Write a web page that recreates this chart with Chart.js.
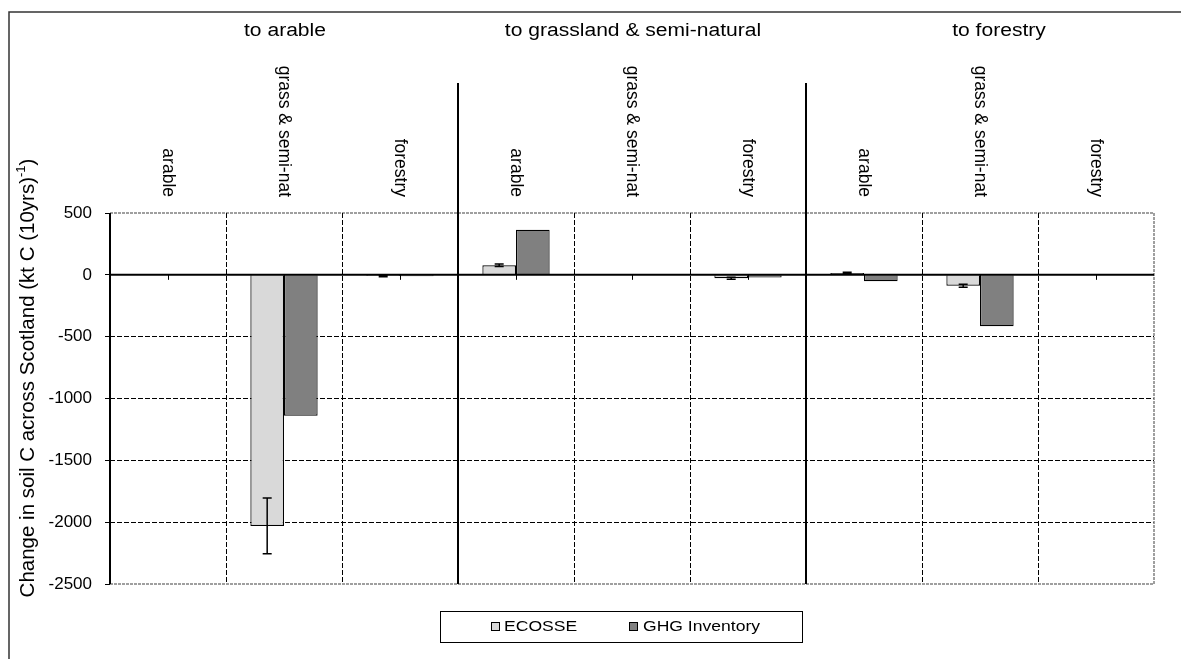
<!DOCTYPE html>
<html>
<head>
<meta charset="utf-8">
<script src="https://cdn.jsdelivr.net/npm/chart.js@4.4.1/dist/chart.umd.min.js"></script>
<style>
  body { margin: 0; background: #fff; }
  canvas { display: block; }
</style>
</head>
<body>
<canvas id="myChart" width="1181" height="659"></canvas>
<script>
// land use change: "from" categories, grouped by the "to" use
var groups = ['to arable', 'to grassland & semi-natural', 'to forestry'];
var categories = ['arable', 'grass & semi-nat', 'forestry',
                  'arable', 'grass & semi-nat', 'forestry',
                  'arable', 'grass & semi-nat', 'forestry'];
// change in soil C across Scotland, kt C per 10 yrs
var ecosse = [0, -2030, -10, 78, 0, -28, 15, -88, 0];
var ecosseErr = [0, 225, 5, 10, 0, 8, 5, 12, 0];
var ghg = [0, -1140, -12, 365, 0, -22, -52, -415, 0];
var yTicks = [500, 0, -500, -1000, -1500, -2000, -2500];
var seriesNames = ['ECOSSE', 'GHG Inventory'];
var seriesColors = ['#d9d9d9', '#808080'];

var FONT = "'Liberation Sans', Arial, sans-serif";
var SX = 1.17; // the horizontal text in the original is a bit wide

function stretchedText(ctx, txt, x, y, size, align) {
  ctx.save();
  ctx.font = size + 'px ' + FONT;
  ctx.fillStyle = '#000';
  ctx.textAlign = align || 'center';
  ctx.textBaseline = 'middle';
  ctx.translate(x, y);
  ctx.scale(SX, 1);
  ctx.fillText(txt, 0, 0);
  ctx.restore();
}

var decorations = {
  id: 'decorations',
  beforeDraw: function(chart) {
    var ctx = chart.ctx;
    ctx.save();
    ctx.fillStyle = '#fff';
    ctx.fillRect(0, 0, chart.width, chart.height);
    // outer frame
    ctx.strokeStyle = '#333';
    ctx.lineWidth = 1.5;
    ctx.beginPath();
    ctx.moveTo(9, chart.height);
    ctx.lineTo(9, 12);
    ctx.lineTo(chart.width, 12);
    ctx.stroke();
    ctx.restore();
  },
  beforeDatasetsDraw: function(chart) {
    var ctx = chart.ctx, a = chart.chartArea, x = chart.scales.x;
    ctx.save();
    // plot area border (grey, fine dashes)
    ctx.strokeStyle = '#808080';
    ctx.lineWidth = 1.5;
    ctx.setLineDash([3, 1]);
    ctx.beginPath();
    ctx.moveTo(a.left, a.top); ctx.lineTo(a.right, a.top);
    ctx.moveTo(a.left, a.bottom); ctx.lineTo(a.right, a.bottom);
    ctx.moveTo(a.right, a.top); ctx.lineTo(a.right, a.bottom);
    ctx.stroke();
    // dashed dividers between categories inside a group
    ctx.strokeStyle = '#000';
    ctx.lineWidth = 1;
    ctx.setLineDash([5, 2]);
    ctx.beginPath();
    for (var i = 1; i < categories.length; i++) {
      if (i % 3 == 0) continue;
      var px = Math.round(x.getPixelForValue(i - 0.5)) + 0.5;
      ctx.moveTo(px, a.top); ctx.lineTo(px, a.bottom);
    }
    ctx.stroke();
    ctx.restore();
  },
  afterDatasetsDraw: function(chart) {
    var ctx = chart.ctx, a = chart.chartArea, x = chart.scales.x, y = chart.scales.y;
    var meta = chart.getDatasetMeta(0);
    ctx.save();
    // error bars on ECOSSE
    ctx.strokeStyle = '#000';
    ctx.lineWidth = 1.5;
    ctx.beginPath();
    for (var i = 0; i < ecosse.length; i++) {
      if (!ecosseErr[i]) continue;
      var bx = meta.data[i].x;
      var hi = y.getPixelForValue(ecosse[i] + ecosseErr[i]);
      var lo = y.getPixelForValue(ecosse[i] - ecosseErr[i]);
      ctx.moveTo(bx, hi); ctx.lineTo(bx, lo);
      ctx.moveTo(bx - 4.5, hi); ctx.lineTo(bx + 4.5, hi);
      ctx.moveTo(bx - 4.5, lo); ctx.lineTo(bx + 4.5, lo);
    }
    ctx.stroke();
    // value axis line
    ctx.lineWidth = 2;
    ctx.beginPath();
    ctx.moveTo(a.left, a.top); ctx.lineTo(a.left, a.bottom);
    ctx.stroke();
    // zero line with small ticks at category centres
    var y0 = y.getPixelForValue(0);
    ctx.beginPath();
    ctx.moveTo(a.left, y0); ctx.lineTo(a.right, y0);
    ctx.stroke();
    ctx.lineWidth = 1;
    ctx.beginPath();
    for (var j = 0; j < categories.length; j++) {
      var cx = Math.round(x.getPixelForValue(j)) + 0.5;
      ctx.moveTo(cx, y0); ctx.lineTo(cx, y0 + 5);
    }
    ctx.stroke();
    // solid separators between the groups
    ctx.lineWidth = 2;
    ctx.beginPath();
    for (var g = 1; g < groups.length; g++) {
      var sx = Math.round(x.getPixelForValue(g * 3 - 0.5));
      ctx.moveTo(sx, 83); ctx.lineTo(sx, a.bottom);
    }
    ctx.stroke();
    ctx.restore();
  },
  afterDraw: function(chart) {
    var ctx = chart.ctx, x = chart.scales.x;
    // group titles
    var groupX = [285, 633, 999];
    for (var g = 0; g < groups.length; g++) {
      stretchedText(ctx, groups[g], groupX[g], 31, 18);
    }
    // rotated category labels, reading downwards
    for (var i = 0; i < categories.length; i++) {
      ctx.save();
      ctx.font = '17.5px ' + FONT;
      ctx.fillStyle = '#000';
      ctx.textAlign = 'right';
      ctx.textBaseline = 'middle';
      ctx.translate(x.getPixelForValue(i), 197);
      ctx.rotate(Math.PI / 2);
      ctx.fillText(categories[i], 0, 0);
      ctx.restore();
    }
    // y axis title with superscript
    var main = 'Change in soil C across Scotland (kt C (10yrs)';
    ctx.save();
    ctx.fillStyle = '#000';
    ctx.textBaseline = 'middle';
    ctx.textAlign = 'left';
    ctx.font = '20.5px ' + FONT;
    var w1 = ctx.measureText(main).width;
    var w3 = ctx.measureText(')').width;
    ctx.font = '13px ' + FONT;
    var w2 = ctx.measureText('-1').width;
    var total = w1 + w2 + w3;
    ctx.translate(28, 378);
    ctx.rotate(-Math.PI / 2);
    ctx.font = '20.5px ' + FONT;
    ctx.fillText(main, -total / 2, 0);
    ctx.font = '13px ' + FONT;
    ctx.fillText('-1', -total / 2 + w1, -7);
    ctx.font = '20.5px ' + FONT;
    ctx.fillText(')', -total / 2 + w1 + w2, 0);
    ctx.restore();
    // legend box
    ctx.save();
    ctx.strokeStyle = '#000';
    ctx.lineWidth = 1;
    ctx.strokeRect(440.5, 611.5, 362, 31);
    var boxX = [491, 629];
    var textX = [504, 643];
    for (var s = 0; s < seriesNames.length; s++) {
      ctx.fillStyle = seriesColors[s];
      ctx.fillRect(boxX[s] + 0.5, 622.5, 8, 8);
      ctx.strokeRect(boxX[s] + 0.5, 622.5, 8, 8);
      stretchedText(ctx, seriesNames[s], textX[s], 627, 15, 'left');
    }
    ctx.restore();
  }
};

var ctx = document.getElementById('myChart').getContext('2d');
var myChart = new Chart(ctx, {
  type: 'bar',
  data: {
    labels: categories,
    datasets: [{
      label: seriesNames[0],
      data: ecosse,
      backgroundColor: seriesColors[0],
      borderColor: '#000',
      borderWidth: 1.2
    }, {
      label: seriesNames[1],
      data: ghg,
      backgroundColor: seriesColors[1],
      borderColor: '#000',
      borderWidth: 1.2
    }]
  },
  options: {
    responsive: false,
    animation: false,
    categoryPercentage: 0.58,
    barPercentage: 1.0,
    layout: { padding: { top: 213, bottom: 75, left: 0, right: 27 } },
    plugins: {
      legend: { display: false },
      tooltip: { enabled: false }
    },
    scales: {
      x: { type: 'category', display: false, offset: true },
      y: {
        min: yTicks[yTicks.length - 1],
        max: yTicks[0],
        afterFit: function(scale) { scale.width = 110; },
        afterBuildTicks: function(scale) {
          scale.ticks = yTicks.map(function(v) { return { value: v }; });
        },
        ticks: {
          color: '#000',
          padding: 13,
          font: { family: FONT, size: 17 },
          callback: function(v) { return String(v); }
        },
        grid: {
          color: function(c) {
            var v = c.tick ? c.tick.value : null;
            return (v < 0 && v > -2500) ? '#000' : 'rgba(0,0,0,0)';
          },
          lineWidth: 1,
          tickLength: 5,
          tickColor: '#000',
          tickBorderDash: []
        },
        border: { display: false, dash: [5, 2] }
      }
    }
  },
  plugins: [decorations]
});
</script>
</body>
</html>
